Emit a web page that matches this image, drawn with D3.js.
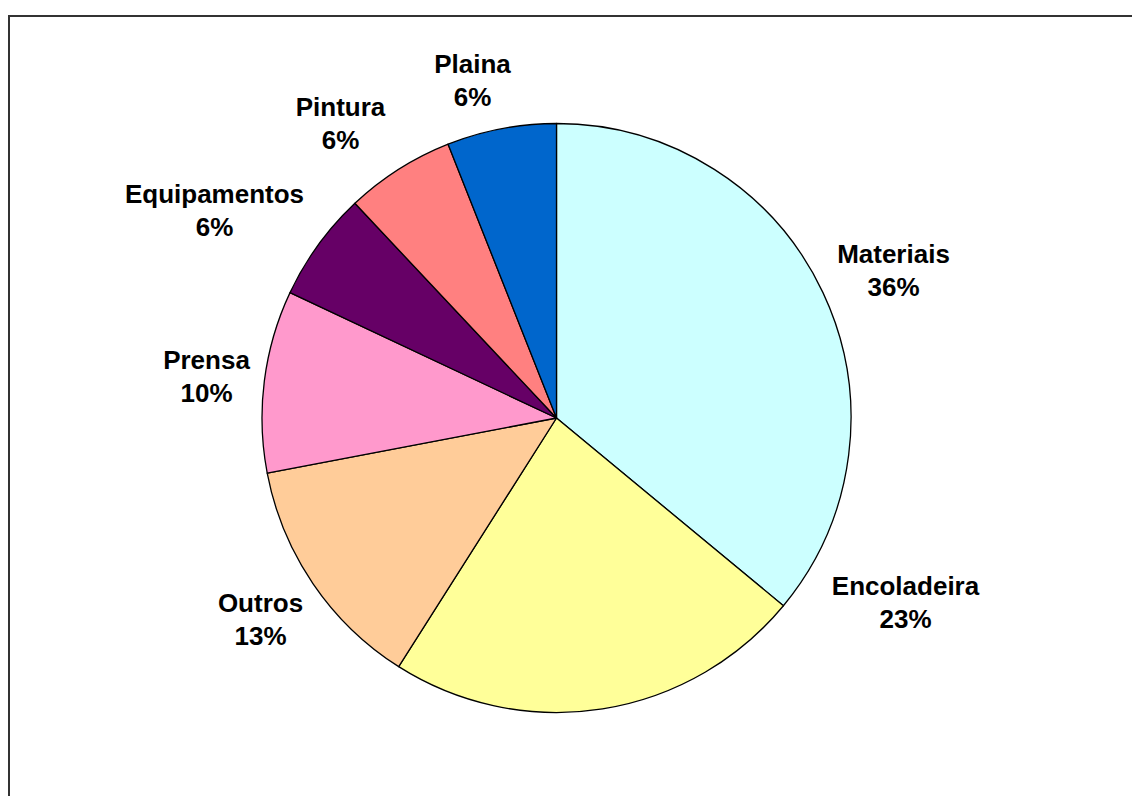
<!DOCTYPE html>
<html>
<head>
<meta charset="utf-8">
<script src="https://cdn.jsdelivr.net/npm/d3@7"></script>
<style>
  html, body { margin: 0; padding: 0; background: #fff; }
  svg { display: block; }
</style>
</head>
<body>
<svg id="chart" width="1132" height="796"></svg>
<script>
// Cost breakdown by category (percent), clockwise from 12 o'clock
const categories = ["Materiais", "Encoladeira", "Outros", "Prensa", "Equipamentos", "Pintura", "Plaina"];
const values = [36, 23, 13, 10, 6, 6, 6];
const colors = ["#CCFFFF", "#FFFF99", "#FFCC99", "#FF99CC", "#660066", "#FF8080", "#0066CC"];

// Label anchors (offset of the first text line's baseline from the pie centre)
const labelOffsets = [[337, -155], [349, 177], [-296, 194], [-350, -49], [-342, -215], [-216, -302], [-84, -345]];

const svg = d3.select("#chart");
const W = 1132, H = 796;
const cx = 556.5, cy = 418, r = 294.5;

// Chart area frame (runs off the right and bottom edges)
svg.append("rect")
  .attr("x", 9).attr("y", 16)
  .attr("width", 1300).attr("height", 1000)
  .attr("fill", "#fff")
  .attr("stroke", "#333").attr("stroke-width", 2);

const data = categories.map((c, i) => ({ name: c, value: values[i], color: colors[i], off: labelOffsets[i] }));

const pie = d3.pie().value(d => d.value).sort(null);
const arc = d3.arc().innerRadius(0).outerRadius(r);

const g = svg.append("g").attr("transform", `translate(${cx},${cy})`);

g.selectAll("path.slice")
  .data(pie(data))
  .join("path")
  .attr("class", "slice")
  .attr("d", arc)
  .attr("fill", d => d.data.color)
  .attr("stroke", "#000")
  .attr("stroke-width", 1.3)
  .attr("stroke-linejoin", "round");

const total = d3.sum(values);
const labels = g.selectAll("text.label")
  .data(pie(data))
  .join("text")
  .attr("class", "label")
  .attr("text-anchor", "middle")
  .attr("font-family", "'Liberation Sans', Arial, sans-serif")
  .attr("font-weight", "bold")
  .attr("font-size", 26)
  .attr("fill", "#000");

labels.append("tspan")
  .attr("x", d => d.data.off[0])
  .attr("y", d => d.data.off[1])
  .text(d => d.data.name);

labels.append("tspan")
  .attr("x", d => d.data.off[0])
  .attr("y", d => d.data.off[1] + 33)
  .text(d => Math.round(d.data.value / total * 100) + "%");
</script>
</body>
</html>
